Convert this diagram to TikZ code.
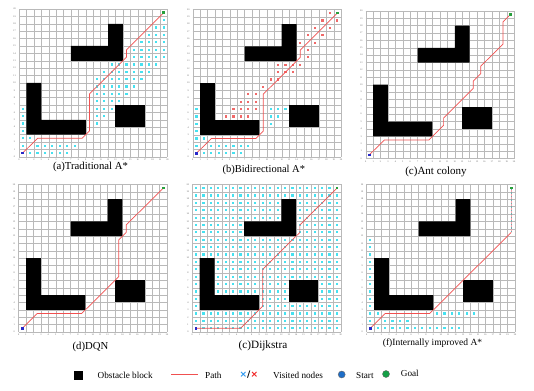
\documentclass[tikz,border=0pt]{standalone}
\usepackage{fontspec}
\setmainfont{Liberation Serif}
\newfontfamily\symfont{DejaVu Sans}
\definecolor{viscyan}{RGB}{70,225,240}
\definecolor{visred}{RGB}{240,105,105}
\definecolor{pathred}{RGB}{240,80,80}
\definecolor{pathpink}{RGB}{245,160,170}
\definecolor{pathteal}{RGB}{110,170,170}
\definecolor{startblue}{RGB}{40,40,200}
\definecolor{goalgreen}{RGB}{40,160,60}
\definecolor{legblue}{RGB}{30,110,200}
\definecolor{leggreen}{RGB}{20,160,70}
\definecolor{xblue}{RGB}{40,150,240}
\definecolor{xred}{RGB}{240,30,30}
\tikzset{
  gridline/.style={draw=gray!55,line width=0.35pt},
  obst/.style={fill=black},
  route/.style={draw=pathred,line width=0.7pt,line join=round},
  vis/.style={fill=viscyan},
  visr/.style={fill=visred},
  tick/.style={font=\fontsize{2.3}{2.5}\selectfont,inner sep=0pt,text=gray!70!black},
  leg/.style={font=\fontsize{9.2}{11}\selectfont,anchor=west,inner sep=0pt},
  panel/.style n args={2}{shift={(#1,#2)},x=7.42pt,y=7.38pt},
}
\newcommand\gridbase[1]{%
  \foreach \k in {0,...,20}{%
    \draw[gridline] (\k,0) -- (\k,20);
    \draw[gridline] (0,\k) -- (20,\k);
    \node[tick] (#1x\k) at (\k,-0.42) {\k};
    \node[tick] (#1y\k) at (-0.6,\k) {\k};
  }}
\newcommand\obstacles{%
  \fill[obst] (1,3) -- (9,3) -- (9,5) -- (3,5) -- (3,10) -- (1,10) -- cycle;
  \fill[obst] (7,13) -- (14,13) -- (14,18) -- (12,18) -- (12,15) -- (7,15) -- cycle;
  \fill[obst] (13,4) rectangle (17,7);}
\newcommand\cy[2]{\foreach \i in {#2}{\fill[vis] (\i+0.5,#1+0.5) ++(-1.1pt,-1.1pt) rectangle ++(2.2pt,2.2pt);}}
\newcommand\rd[2]{\foreach \i in {#2}{\fill[visr] (\i+0.5,#1+0.5) ++(-1.1pt,-1.1pt) rectangle ++(2.2pt,2.2pt);}}
\newcommand\markends{%
  \fill[startblue] (0.5,0.5) ++(-1.3pt,-1.3pt) rectangle ++(2.6pt,2.6pt);
  \fill[goalgreen] (19.5,19.5) ++(-1.3pt,-1.3pt) rectangle ++(2.6pt,2.6pt);}
\begin{document}
\begin{tikzpicture}[x=1pt,y=-1pt]
\useasboundingbox[fill=white] (0,0) rectangle (534,390);

% (a) Traditional A*
\begin{scope}[panel={19}{156.7}]
  \gridbase{a}
  \cy{18}{19} \cy{17}{18,19} \cy{16}{17,18,19} \cy{15}{16,...,19}
  \cy{14}{15,...,19} \cy{13}{15,...,19} \cy{12}{12,...,18} \cy{11}{11,...,17}
  \cy{10}{10,...,16} \cy{9}{10,...,15} \cy{8}{10,...,14} \cy{7}{10,...,13}
  \cy{6}{0,10,11,12} \cy{5}{0,10,11} \cy{4}{0,10} \cy{3}{0} \cy{2}{0,1}
  \cy{1}{0,2,3,4,5,6,7} \cy{0}{1,...,6}
  \obstacles
  \draw[route] (0.5,0.5) -- (2.5,2.5) -- (8.5,2.5) -- (9.5,3.5) -- (9.5,8.5) -- (14.5,13.5) -- (14.5,14.5) -- (19.5,19.5);
  \markends
\end{scope}
\node[font=\fontsize{10.7}{12}\selectfont] (capa) at (90.5,166.7) {(a)Traditional A*};

% (b) Bidirectional A*
\begin{scope}[panel={192.7}{157}]
  \gridbase{b}
  \cy{6}{0,10,11,12} \cy{5}{0,10,11} \cy{4}{0,10} \cy{3}{0} \cy{2}{0,1}
  \cy{1}{0,2,3,4,5,6,7} \cy{0}{1,...,6}
  \rd{19}{18} \rd{18}{17,19} \rd{17}{16,18} \rd{16}{15,17} \rd{15}{14,16}
  \rd{14}{15} \rd{13}{15} \rd{12}{11,12,13,14} \rd{11}{11,12,13}
  \rd{10}{10,11} \rd{9}{9} \rd{8}{7,8} \rd{7}{6,7,8} \rd{6}{5,6,7,8} \rd{5}{4,5,6,7}
  \obstacles
  \draw[route] (0.5,0.5) -- (2.5,2.5) -- (8.5,2.5) -- (9.5,3.5) -- (9.5,8.5) -- (14.5,13.5) -- (14.5,14.5) -- (19.5,19.5);
  \markends
\end{scope}
\node[font=\fontsize{10.5}{12}\selectfont] (capb) at (263.8,170) {(b)Bidirectional A*};

% (c) Ant colony
\begin{scope}[panel={365.7}{158.5}]
  \gridbase{c}
  \obstacles
  \draw[route] (0.5,0.5) -- (2.5,2.5) -- (8.5,2.5) -- (10.5,4.5) -- (10.5,5.5) -- (14.5,9.5) -- (14.5,10.5) -- (15.5,11.5) -- (15.5,12.5) -- (18.5,15.5) -- (18.5,18.5) -- (19.5,19.5);
  \markends
\end{scope}
\node[font=\fontsize{11}{12}\selectfont] (capc) at (436,171.7) {(c)Ant colony};

% (d) DQN
\begin{scope}[panel={18.6}{332}]
  \gridbase{d}
  \obstacles
  \draw[route] (0.5,0.5) -- (2.5,2.5) -- (8.5,2.5) -- (13.5,7.5) -- (13.5,12.5) -- (14.5,13.5) -- (14.5,14.5) -- (19.5,19.5);
  \markends
\end{scope}
\node[font=\fontsize{10.7}{12}\selectfont] (capd) at (90.5,347.3) {(d)DQN};

% (e) Dijkstra
\begin{scope}[panel={192.3}{332}]
  \gridbase{e}
  \foreach \j in {0,...,19}{\cy{\j}{0,...,19}}
  \obstacles
  \draw[route] (0.5,0.5) -- (6.5,0.5) -- (9.5,3.5) -- (9.5,8.5) -- (14.5,13.5) -- (14.5,14.5) -- (19.5,19.5);
  \markends
\end{scope}
\node[font=\fontsize{11.2}{12}\selectfont] (cape) at (263,346.3) {(c)Dijkstra};

% (f) Internally improved A*
\begin{scope}[panel={366.6}{332}]
  \gridbase{f}
  \cy{12}{0} \cy{11}{0} \cy{10}{0} \cy{9}{0} \cy{8}{0} \cy{7}{0} \cy{6}{0}
  \cy{5}{0} \cy{4}{0} \cy{3}{0} \cy{2}{0,1,9,10,11,12,13,14}
  \cy{1}{0,2,3,4,5} \cy{0}{1,...,12}
  \obstacles
  \draw[route] (0.5,0.5) -- (2.5,2.5) -- (8.5,2.5) -- (19.5,13.5);
  \draw[draw=pathpink,line width=1pt] (19.5,13.5) -- (19.5,19.5);
  \draw[draw=pathteal,line width=0.8pt,dash pattern=on 1.5pt off 2pt] (19.5,13.5) -- (19.5,19.5);
  \markends
\end{scope}
\node[font=\fontsize{9.5}{12}\selectfont] (capf) at (432.5,342.7) {(f)Internally improved A*};

% legend
\node[fill=black,minimum size=9pt,inner sep=0pt] (legobs) at (78.7,375) {};
\node[leg] (legobstxt) at (97.5,375) {Obstacle block};
\coordinate (lpa) at (171,374.5);
\coordinate (lpb) at (197.7,374.5);
\draw[route] (lpa) -- (lpb);
\node[leg] (legpath) at (205,375) {Path};
\node[leg] (legx) at (239.5,375) {\symfont\bfseries\fontsize{9}{11}\selectfont\textcolor{xblue}{×}/\textcolor{xred}{×}};
\node[leg] (legvis) at (273,375) {Visited nodes};
\node[circle,fill=legblue,draw=black!60,line width=0.4pt,minimum size=7pt,inner sep=0pt] (legstart) at (341.7,374.5) {};
\node[leg] (legstarttxt) at (356,375) {Start};
\node[circle,fill=leggreen,draw=black!60,line width=0.4pt,minimum size=7pt,inner sep=0pt] (leggoal) at (386,374) {};
\node[leg] (leggoaltxt) at (400.7,373) {Goal};
\end{tikzpicture}
\end{document}
